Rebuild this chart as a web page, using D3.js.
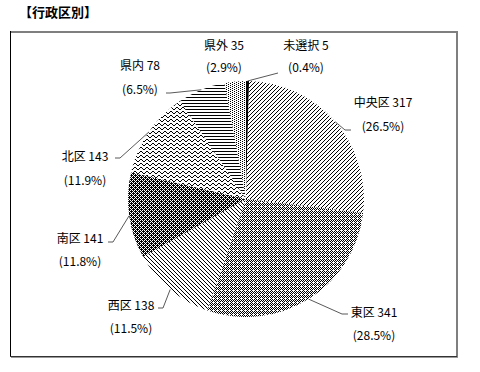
<!DOCTYPE html>
<html><head><meta charset="utf-8">
<script src="https://cdn.jsdelivr.net/npm/d3@7"></script>
<style>
html,body{margin:0;padding:0;background:#fff;}
svg{display:block;}
text{font-family:"Noto Sans CJK JP","Noto Sans",sans-serif;fill:#000;}
</style></head>
<body>
<script>
// ---- data ----
const categories = ["未選択","中央区","東区","西区","南区","北区","県内","県外"];
const values = [5,317,341,138,141,143,78,35];
const title = "【行政区別】";

// ---- layout (label positions / leader elbows) ----
const labelPos = [
  {cx:306, y1:50,  y2:72,  leader:[[278,73]]},
  {cx:383, y1:107, y2:131, leader:[[351,130],[345,130]]},
  {cx:374, y1:317, y2:340, leader:[[348,314],[342,314]]},
  {cx:131, y1:310, y2:333, leader:[[158,308],[163,308]]},
  {cx:80,  y1:243, y2:266, leader:[[108,242],[113,242]]},
  {cx:85,  y1:161, y2:185, leader:[[115,158],[120,158]]},
  {cx:140, y1:70,  y2:94,  leader:[[166,93],[170,93]]},
  {cx:224, y1:50,  y2:72,  leader:null}
];
// pixel-map fill patterns, one per slice
const patternMaps = [
  null,                                   // solid black
  ["0001","0010","0100","1000"],          // /
  ["1010","0101","1010","0100"],          // fine dots
  ["1000","0100","0010","0001"],          // \
  ["1110","0101","1011","0101"],          // dark lattice
  ["001100","010010","100001","000000"],  // zigzag
  ["1","0","0"],                          // horizontal
  ["1000","0010"]                         // sparse dots
];

const W = 480, H = 372;
const cx = 246, cy = 199, R = 118;

const svg = d3.select("body").append("svg").attr("width", W).attr("height", H);
const defs = svg.append("defs");
patternMaps.forEach((m, i) => {
  if (!m) return;
  const p = defs.append("pattern").attr("id", "p" + i)
    .attr("patternUnits", "userSpaceOnUse")
    .attr("width", m[0].length).attr("height", m.length);
  p.append("rect").attr("width", m[0].length).attr("height", m.length).attr("fill", "#fff");
  m.forEach((row, y) => {
    row.split("").forEach((c, x) => {
      if (c === "1") p.append("rect").attr("x", x).attr("y", y).attr("width", 1).attr("height", 1)
        .attr("fill", "#000").attr("shape-rendering", "crispEdges");
    });
  });
});

// title
svg.append("text").attr("x", 19).attr("y", 17).attr("font-size", 13).attr("font-weight", "bold").text(title);

// frame
const fr = svg.append("g").attr("shape-rendering", "crispEdges");
fr.append("line").attr("x1", 10).attr("x2", 458).attr("y1", 32).attr("y2", 32).attr("stroke", "#7f7f7f").attr("stroke-width", 2);
fr.append("line").attr("x1", 457).attr("x2", 457).attr("y1", 31).attr("y2", 358).attr("stroke", "#7f7f7f").attr("stroke-width", 2);
fr.append("line").attr("x1", 10.5).attr("x2", 10.5).attr("y1", 31).attr("y2", 357).attr("stroke", "#000").attr("stroke-width", 1);
fr.append("line").attr("x1", 10).attr("x2", 457).attr("y1", 356.5).attr("y2", 356.5).attr("stroke", "#333").attr("stroke-width", 1);
fr.append("line").attr("x1", 11).attr("x2", 458).attr("y1", 357.5).attr("y2", 357.5).attr("stroke", "#999").attr("stroke-width", 1);

// pie
const pie = d3.pie().sort(null).value(d => d)(values);
const arc = d3.arc().innerRadius(0).outerRadius(R);
const edge = d3.arc().innerRadius(R).outerRadius(R);
const total = d3.sum(values);
const fmt = d3.format(".1f");

const g = svg.append("g").attr("transform", `translate(${cx},${cy})`);
g.selectAll("path.slice").data(pie).join("path").attr("class", "slice")
  .attr("d", arc)
  .attr("fill", (d, i) => patternMaps[i] ? `url(#p${i})` : "#000");

// leaders
pie.forEach((d, i) => {
  const L = labelPos[i];
  if (!L.leader) return;
  const [ex, ey] = edge.centroid(d);
  const pts = L.leader.concat([[cx + ex, cy + ey]]);
  svg.append("path").attr("d", d3.line()(pts)).attr("fill", "none")
    .attr("stroke", "#595959").attr("stroke-width", 1);
});

// labels
const lab = svg.append("g").attr("font-size", 12).attr("text-anchor", "middle");
categories.forEach((c, i) => {
  const L = labelPos[i];
  lab.append("text").attr("x", L.cx).attr("y", L.y1).text(`${c} ${values[i]}`);
  lab.append("text").attr("x", L.cx).attr("y", L.y2).text(`(${fmt(values[i] / total * 100)}%)`);
});
</script>
</body></html>
